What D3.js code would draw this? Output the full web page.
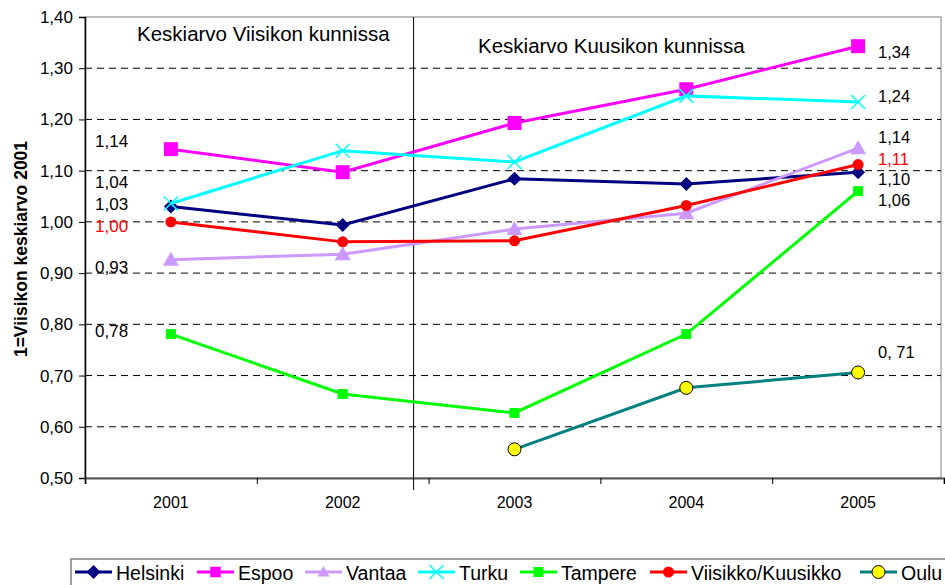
<!DOCTYPE html>
<html>
<head>
<meta charset="utf-8">
<script src="https://cdn.jsdelivr.net/npm/d3@7"></script>
<style>
  body { margin: 0; background: #fff; overflow: hidden; }
  svg { font-family: "Liberation Sans", Arial, sans-serif; display: block; }
</style>
</head>
<body>
<div id="chart"></div>
<script>
let width = 945,
  height = 585;

// data
let years = ['2001', '2002', '2003', '2004', '2005'];
let helsinki = [1.03, 0.994, 1.084, 1.074, 1.097];
let espoo = [1.142, 1.097, 1.193, 1.259, 1.343];
let vantaa = [0.926, 0.937, 0.986, 1.017, 1.144];
let turku = [1.036, 1.139, 1.117, 1.246, 1.234];
let tampere = [0.781, 0.664, 0.627, 0.781, 1.06];
let viisikko = [1.0, 0.961, 0.963, 1.032, 1.112];
let oulu = [null, null, 0.556, 0.676, 0.706];
let yTicks = [0.5, 0.6, 0.7, 0.8, 0.9, 1.0, 1.1, 1.2, 1.3, 1.4];
// value labels: text, level where the label sits, colour
let leftLabels = [['1,14', 1.146, '#000'], ['1,04', 1.066, '#000'], ['1,03', 1.023, '#000'],
  ['1,00', 0.98, '#f00'], ['0,93', 0.9, '#000'], ['0,78', 0.775, '#000']];
let rightLabels = [['1,34', 1.32, '#000'], ['1,24', 1.234, '#000'], ['1,14', 1.154, '#000'],
  ['1,11', 1.111, '#f00'], ['1,10', 1.072, '#000'], ['1,06', 1.031, '#000'], ['0, 71', 0.734, '#000']];

let series = [
  { name: 'Helsinki', values: helsinki, color: '#000080', marker: 'diamond' },
  { name: 'Espoo', values: espoo, color: '#ff00ff', marker: 'bigsquare' },
  { name: 'Vantaa', values: vantaa, color: '#cc99ff', marker: 'triangle' },
  { name: 'Turku', values: turku, color: '#00ffff', marker: 'cross' },
  { name: 'Tampere', values: tampere, color: '#00ff00', marker: 'square' },
  { name: 'Viisikko/Kuusikko', values: viisikko, color: '#ff0000', marker: 'circle' },
  { name: 'Oulu', values: oulu, color: '#008080', marker: 'yellow' }
];

let pLeft = 85, pRight = 944, pTop = 17, pBottom = 478;

let svg = d3.select('#chart').append('svg')
  .attr('width', width)
  .attr('height', height);

let xScale = d3.scaleBand().domain(years).range([pLeft, pRight]);
let xEdges = d3.scaleLinear().domain([0, years.length]).range([pLeft, pRight]);
let yScale = d3.scaleLinear().domain([0.5, 1.4]).range([pBottom, pTop]);

// plot frame
svg.append('rect')
  .attr('x', pLeft).attr('y', pTop)
  .attr('width', pRight - pLeft - 3).attr('height', pBottom - pTop)
  .attr('fill', 'none').attr('stroke', '#808080').attr('stroke-width', 1);

// dashed grid
svg.append('g')
  .selectAll('line')
  .data(yTicks.filter(function (d) { return d > 0.5 && d < 1.4; }))
  .enter()
  .append('line')
  .attr('x1', pLeft).attr('x2', pRight - 3)
  .attr('y1', function (d) { return yScale(d); })
  .attr('y2', function (d) { return yScale(d); })
  .attr('stroke', '#000')
  .attr('stroke-dasharray', '7,5');

// y axis
let yAxis = d3.axisLeft(yScale).tickValues(yTicks).tickSize(6).tickPadding(6)
  .tickFormat(function (d) { return d3.format('.2f')(d).replace('.', ','); });
let yg = svg.append('g').attr('transform', 'translate(' + pLeft + ',0)').call(yAxis);
yg.select('.domain').attr('stroke', '#000').attr('stroke-width', 1.5);
yg.selectAll('.tick line').attr('stroke', '#000');
yg.selectAll('text').attr('font-size', 17).attr('fill', '#000')
  .attr('font-family', '"Liberation Sans", Arial, sans-serif');

// x axis: ticks at category edges, labels in middle
let xg = svg.append('g').attr('transform', 'translate(0,' + pBottom + ')')
  .call(d3.axisBottom(xEdges).tickValues(d3.range(years.length + 1)).tickSize(6).tickFormat(''));
xg.select('.domain').attr('stroke', '#555').attr('stroke-width', 2);
xg.selectAll('.tick line').attr('stroke', '#000');

let xl = svg.append('g').attr('transform', 'translate(0,' + pBottom + ')')
  .call(d3.axisBottom(xScale).tickSize(0).tickPadding(19));
xl.select('.domain').remove();
xl.selectAll('text').attr('font-size', 16).attr('fill', '#000')
  .attr('font-family', '"Liberation Sans", Arial, sans-serif');

// divider between five and six city averages
let divX = xEdges(2) - 15;
svg.append('line')
  .attr('x1', divX).attr('x2', divX)
  .attr('y1', pTop).attr('y2', pBottom + 12)
  .attr('stroke', '#000').attr('stroke-width', 1);

svg.append('text').attr('x', 137).attr('y', 41).attr('font-size', 20.5)
  .text('Keskiarvo Viisikon kunnissa');
svg.append('text').attr('x', 478).attr('y', 53).attr('font-size', 20.5)
  .text('Keskiarvo Kuusikon kunnissa');

// y axis title
svg.append('text')
  .attr('transform', 'translate(27,249) rotate(-90)')
  .attr('text-anchor', 'middle')
  .attr('font-size', 17.5)
  .attr('font-weight', 'bold')
  .text('1=Viisikon keskiarvo 2001');

function drawMarker(g, type, color, x, y, small) {
  let k = small ? 0.75 : 1;
  if (type === 'diamond') {
    g.append('path').attr('d', 'M' + x + ',' + (y - 7) + 'L' + (x + 7) + ',' + y + 'L' + x + ',' + (y + 7) + 'L' + (x - 7) + ',' + y + 'Z')
      .attr('fill', color);
  } else if (type === 'bigsquare') {
    let s = 14 * k;
    g.append('rect').attr('x', x - s / 2).attr('y', y - s / 2).attr('width', s).attr('height', s).attr('fill', color);
  } else if (type === 'square') {
    g.append('rect').attr('x', x - 5).attr('y', y - 5).attr('width', 10).attr('height', 10).attr('fill', color);
  } else if (type === 'triangle') {
    g.append('path').attr('d', 'M' + x + ',' + (y - 8 * k) + 'L' + (x + 8 * k) + ',' + (y + 6 * k) + 'L' + (x - 8 * k) + ',' + (y + 6 * k) + 'Z')
      .attr('fill', color);
  } else if (type === 'cross') {
    g.append('path').attr('d', 'M' + (x - 7) + ',' + (y - 7) + 'L' + (x + 7) + ',' + (y + 7) + 'M' + (x - 7) + ',' + (y + 7) + 'L' + (x + 7) + ',' + (y - 7))
      .attr('stroke', color).attr('stroke-width', 1.5);
  } else if (type === 'circle') {
    g.append('circle').attr('cx', x).attr('cy', y).attr('r', 5.5).attr('fill', color);
  } else if (type === 'yellow') {
    g.append('circle').attr('cx', x).attr('cy', y).attr('r', 6.5).attr('fill', '#ffff00')
      .attr('stroke', '#000').attr('stroke-width', 1);
  }
}

let line = d3.line()
  .defined(function (d) { return d != null; })
  .x(function (d, i) { return xScale(years[i]) + xScale.bandwidth() / 2; })
  .y(function (d) { return yScale(d); });

series.forEach(function (s) {
  let g = svg.append('g');
  g.append('path').datum(s.values)
    .attr('d', line)
    .attr('fill', 'none')
    .attr('stroke', s.color)
    .attr('stroke-width', 3);
  s.values.forEach(function (v, i) {
    if (v == null) return;
    drawMarker(g, s.marker, s.color, xScale(years[i]) + xScale.bandwidth() / 2, yScale(v));
  });
});

// value labels
svg.append('g').selectAll('text').data(leftLabels).enter().append('text')
  .attr('x', 95)
  .attr('y', function (d) { return yScale(d[1]); })
  .attr('font-size', 17)
  .attr('fill', function (d) { return d[2]; })
  .text(function (d) { return d[0]; });

svg.append('g').selectAll('text').data(rightLabels).enter().append('text')
  .attr('x', 878)
  .attr('y', function (d) { return yScale(d[1]); })
  .attr('font-size', 16.5)
  .attr('fill', function (d) { return d[2]; })
  .text(function (d) { return d[0]; });

// legend
svg.append('rect')
  .attr('x', 71).attr('y', 559).attr('width', 890).attr('height', 40)
  .attr('fill', '#fff').attr('stroke', '#808080').attr('stroke-width', 1.5);

let legendX = [75, 197, 305, 418, 520, 650, 860];
series.forEach(function (s, i) {
  let lg = svg.append('g');
  let x0 = legendX[i];
  lg.append('line').attr('x1', x0).attr('x2', x0 + 37).attr('y1', 572).attr('y2', 572)
    .attr('stroke', s.color).attr('stroke-width', 3);
  drawMarker(lg, s.marker, s.color, x0 + 18.5, 572, true);
  lg.append('text').attr('x', x0 + 41).attr('y', 580).attr('font-size', 19.5)
    .text(s.name);
});
</script>
</body>
</html>
